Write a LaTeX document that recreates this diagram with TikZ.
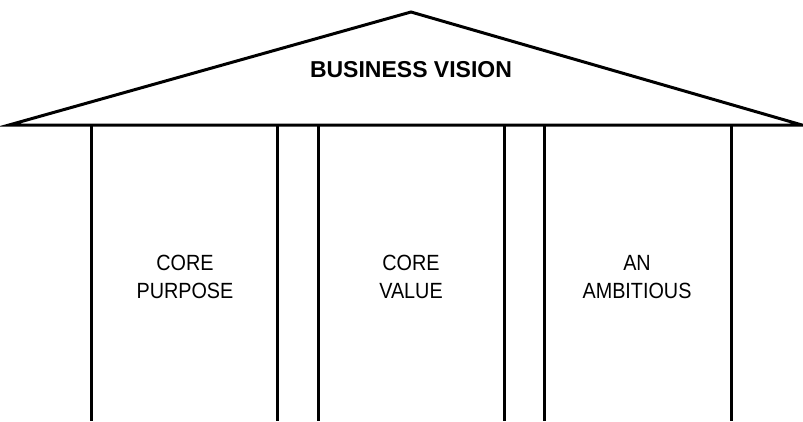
\documentclass[tikz,border=0pt]{standalone}
\usepackage{fontspec}
\setmainfont{Liberation Sans}
\newfontfamily\condfont[FakeStretch=0.9]{Liberation Sans}
\begin{document}
\begin{tikzpicture}[x=1pt,y=-1pt,
  line/.style={line width=3pt,black},
  lbl/.style={align=center,font=\condfont\fontsize{22}{28}\selectfont,inner sep=0pt},
  ttl/.style={font=\fontsize{23}{26}\selectfont\bfseries,inner sep=0pt}]
\useasboundingbox (0,0) rectangle (803,421);
\coordinate (L) at (9,125);
\coordinate (A) at (411,12);
\coordinate (R) at (802,125);
\draw[line,line join=miter] (L) -- (A) -- (R) -- cycle;
\foreach \x/\n in {91/p1,277/p2,318/p3,504/p4,544/p5,731/p6}{
  \coordinate (\n t) at (\x,125);
  \coordinate (\n b) at (\x,421);
  \draw[line] (\n t) -- (\n b);
}
\node[ttl] (title) at (411,70) {BUSINESS VISION};
\node[lbl] (c1) at (185,277) {CORE\\PURPOSE};
\node[lbl] (c2) at (411,277) {CORE\\VALUE};
\node[lbl] (c3) at (637,277) {AN\\AMBITIOUS};
\end{tikzpicture}
\end{document}
